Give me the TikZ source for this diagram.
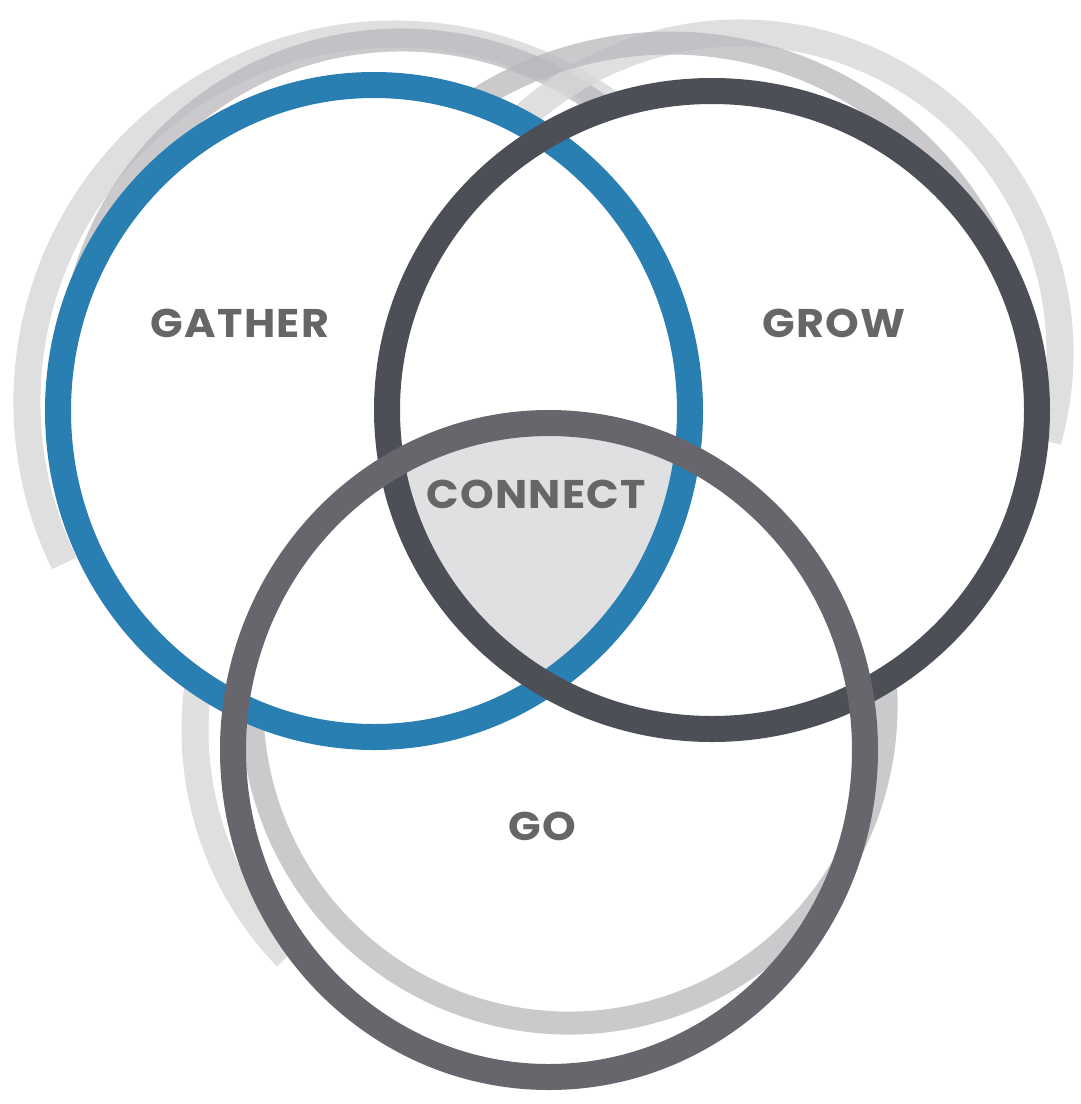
\documentclass[tikz,border=0pt]{standalone}
\usepackage{fontspec}
\newfontfamily\lblfont[LetterSpace=3]{Poppins}
\definecolor{ringblue}{RGB}{42,127,178}
\definecolor{ringdark}{RGB}{77,79,87}
\definecolor{ringgray}{RGB}{103,102,108}
\definecolor{shlight}{RGB}{216,215,217}
\definecolor{shmid}{RGB}{186,184,188}
\definecolor{connectfill}{RGB}{224,224,226}
\definecolor{lbltext}{RGB}{102,102,102}
\newcommand{\widelbl}[1]{\scalebox{1.07}[1]{#1}}
\begin{document}
\begin{tikzpicture}[x=1pt,y=-1pt,
  ring/.style={line width=26},
  shadowlight/.style={draw=shlight,draw opacity=0.8,line width=27},
  shadowmid/.style={draw=shmid,draw opacity=0.75,line width=23},
  lbl/.style={inner sep=0pt,text=lbltext,font=\lblfont\bfseries\fontsize{40}{40}\selectfont}]
\useasboundingbox (0,0) rectangle (1080,1104);
\fill[white] (0,0) rectangle (1080,1104);
% centres
\coordinate (cGather) at (374,411);
\coordinate (cGrow) at (712,410);
\coordinate (cGo) at (549,750);
% shadow arcs hidden inside the GATHER and GROW rings
\begin{scope}[even odd rule]
  \clip (-20,-20) rectangle (1100,1124) (cGather) ellipse[x radius=316,y radius=326];
  \clip (-20,-20) rectangle (1100,1124) (cGrow) ellipse[x radius=325,y radius=319];
  \draw[shadowlight] (395,402) ++(154:368) arc[start angle=154,end angle=320,radius=368];
  \draw[shadowmid] (402,372) ++(190:332) arc[start angle=190,end angle=322,radius=332];
  \draw[shadowlight] (740,353) ++(205:320) arc[start angle=205,end angle=376,radius=320];
  \draw[shadowmid] (670,402) ++(225:359) arc[start angle=225,end angle=335,radius=359];
  \draw[shadowmid] (569,706) ++(-20:317) arc[start angle=-20,end angle=200,radius=317];
\end{scope}
% shadow arc hidden inside the GATHER and GO rings
\begin{scope}[even odd rule]
  \clip (-20,-20) rectangle (1100,1124) (cGather) ellipse[x radius=316,y radius=326];
  \clip (-20,-20) rectangle (1100,1124) (cGo) ellipse[x radius=316,y radius=327];
  \draw[shadowlight] (522,730) ++(136:327) arc[start angle=136,end angle=205,radius=327];
\end{scope}
% connect area
\begin{scope}
  \clip (cGather) ellipse[x radius=316,y radius=326];
  \clip (cGrow) ellipse[x radius=325,y radius=319];
  \fill[connectfill] (cGo) ellipse[x radius=316,y radius=327];
\end{scope}
% main rings
\draw[ring,ringblue] (cGather) ellipse[x radius=316,y radius=326];
\draw[ring,ringdark] (cGrow) ellipse[x radius=325,y radius=319];
\draw[ring,ringgray] (cGo) ellipse[x radius=316,y radius=327];
% labels
\node[lbl] (gather) at (240,323) {\widelbl{GATHER}};
\node[lbl] (grow) at (834,323) {\widelbl{GROW}};
\node[lbl] (connect) at (536,494) {\widelbl{CONNECT}};
\node[lbl] (go) at (542,826) {\widelbl{GO}};
\end{tikzpicture}
\end{document}
